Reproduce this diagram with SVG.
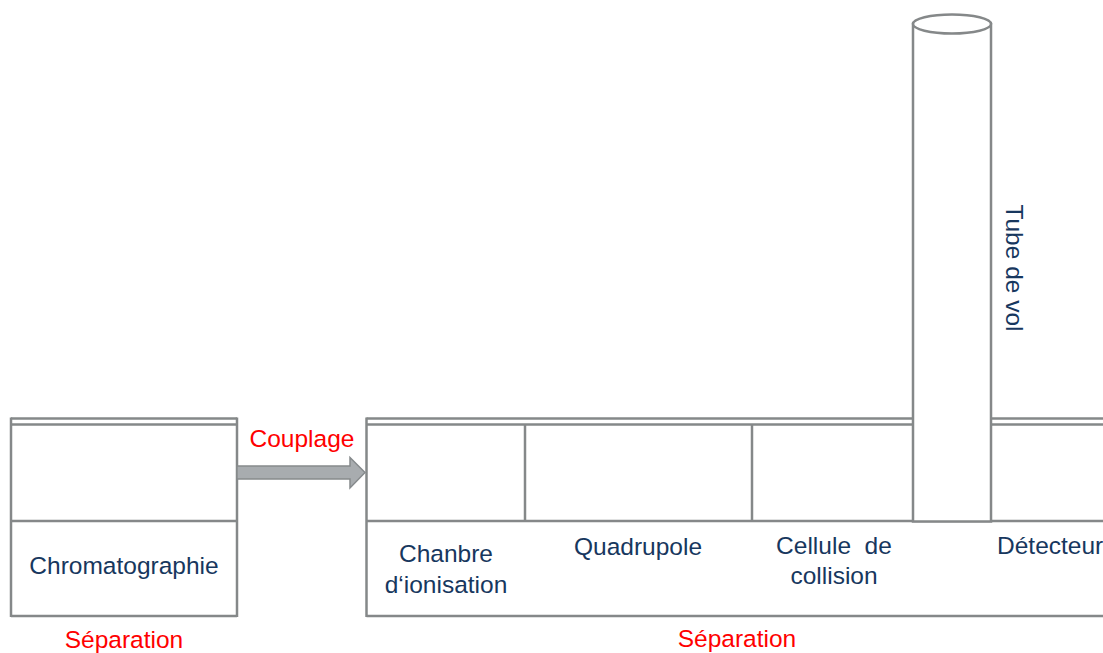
<svg xmlns="http://www.w3.org/2000/svg" width="1103" height="653" viewBox="0 0 1103 653">
  <style>
    .ln { stroke: #858889; stroke-width: 2.5; fill: none; }
    .tube { stroke: #858889; stroke-width: 2.5; fill: #ffffff; }
    .lbl { font-family: "Liberation Sans", Arial, sans-serif; font-size: 24.5px; fill: #17375e; text-anchor: middle; }
    .red { font-family: "Liberation Sans", Arial, sans-serif; font-size: 24.5px; fill: #ff0000; text-anchor: middle; }
    .arrow { fill: #a8acaf; stroke: #868a8c; stroke-width: 1.5; }
  </style>
  <rect width="1103" height="653" fill="#ffffff"/>

  <g id="chromatographie">
    <line class="ln" x1="11" y1="418.5" x2="237" y2="418.5"/>
    <line class="ln" x1="11" y1="424.5" x2="237" y2="424.5"/>
    <line class="ln" x1="11" y1="417.5" x2="11" y2="617"/>
    <line class="ln" x1="237" y1="417.5" x2="237" y2="617"/>
    <line class="ln" x1="11" y1="521" x2="237" y2="521"/>
    <line class="ln" x1="11" y1="616" x2="237" y2="616"/>
    <text class="lbl" x="124" y="574">Chromatographie</text>
    <text class="red" x="124" y="648">Séparation</text>
  </g>

  <g id="spectrometre">
    <line class="ln" x1="366.5" y1="418.5" x2="1103" y2="418.5"/>
    <line class="ln" x1="366.5" y1="424.5" x2="1103" y2="424.5"/>
    <line class="ln" x1="366.5" y1="417.5" x2="366.5" y2="617"/>
    <line class="ln" x1="366.5" y1="521" x2="1103" y2="521"/>
    <line class="ln" x1="366.5" y1="616" x2="1103" y2="616"/>
    <text class="red" x="737" y="647">Séparation</text>
  </g>

  <g id="chambre-ionisation">
    <line class="ln" x1="525" y1="424.5" x2="525" y2="521"/>
    <text class="lbl" x="446" y="562">Chanbre</text>
    <text class="lbl" x="446" y="593">d‘ionisation</text>
  </g>

  <g id="quadrupole">
    <line class="ln" x1="752" y1="424.5" x2="752" y2="521"/>
    <text class="lbl" x="638" y="555">Quadrupole</text>
  </g>

  <g id="cellule-collision">
    <text class="lbl" x="834" y="554" xml:space="preserve">Cellule  de</text>
    <text class="lbl" x="834" y="584">collision</text>
  </g>

  <g id="tube-de-vol">
    <rect class="tube" x="913" y="24" width="78" height="497.5"/>
    <ellipse class="tube" cx="952" cy="24" rx="39" ry="9.5"/>
    <text class="lbl" transform="translate(1006,268) rotate(90)" x="0" y="0">Tube de vol</text>
  </g>

  <g id="detecteur">
    <text class="lbl" x="997" y="554" style="text-anchor:start">Détecteur</text>
  </g>

  <g id="connectors">
    <polygon class="arrow" points="237,466 350,466 350,457.5 365,472.5 350,488 350,479 237,479"/>
    <text class="red" x="302" y="447">Couplage</text>
  </g>
</svg>
